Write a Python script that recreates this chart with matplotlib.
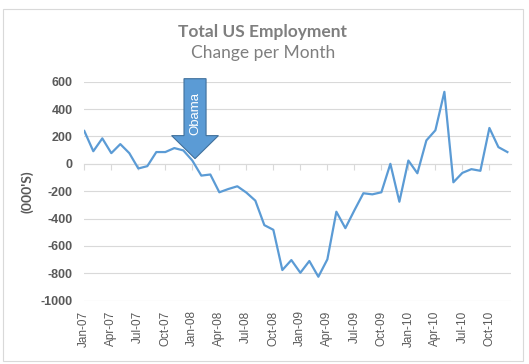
import numpy as np
import matplotlib
matplotlib.use("Agg")
import matplotlib.pyplot as plt
from matplotlib.patches import FancyArrow, Rectangle

# ===================== 数据 =====================
months = [
    "Jan-07", "Feb-07", "Mar-07", "Apr-07", "May-07", "Jun-07", "Jul-07", "Aug-07", "Sep-07", "Oct-07", "Nov-07", "Dec-07",
    "Jan-08", "Feb-08", "Mar-08", "Apr-08", "May-08", "Jun-08", "Jul-08", "Aug-08", "Sep-08", "Oct-08", "Nov-08", "Dec-08",
    "Jan-09", "Feb-09", "Mar-09", "Apr-09", "May-09", "Jun-09", "Jul-09", "Aug-09", "Sep-09", "Oct-09", "Nov-09", "Dec-09",
    "Jan-10", "Feb-10", "Mar-10", "Apr-10", "May-10", "Jun-10", "Jul-10", "Aug-10", "Sep-10", "Oct-10", "Nov-10", "Dec-10",
]
change = [
    240, 92, 186, 78, 144, 78, -34, -17, 86, 86, 115, 98,
    24, -86, -78, -208, -184, -164, -210, -269, -448, -482, -776, -703,
    -796, -710, -825, -698, -350, -470, -340, -215, -223, -208, 0, -277,
    24, -69, 171, 245, 526, -135, -66, -39, -51, 262, 122, 86,
]
tick_step = 3
y_ticks = [-1000, -800, -600, -400, -200, 0, 200, 400, 600]

# ===================== 样式 =====================
LINE_C = "#5B9BD5"
GRID_C = "#D9D9D9"
TEXT_C = "#595959"
TITLE_C = "#7F7F7F"

fig = plt.figure(figsize=(5.29, 3.64), dpi=100)
fig.patches.append(Rectangle((3 / 529, 3 / 364), 520 / 529, 352 / 364, transform=fig.transFigure,
                             fill=False, edgecolor=GRID_C, linewidth=0.8))

ax = fig.add_axes([84.3 / 529, 63.3 / 364, (511 - 84.3) / 529, (300.7 - 81.7) / 364])
x = np.arange(len(months))
ax.plot(x, change, color=LINE_C, linewidth=1.6, solid_joinstyle="round", zorder=3)

ax.set_xlim(0, len(months) - 1 + 0.4)
ax.set_ylim(-1000, 600)
ax.set_yticks(y_ticks)
ax.set_yticklabels([str(v) for v in y_ticks], fontsize=9, fontweight="bold", color=TEXT_C,
                   family="Liberation Sans")
ax.tick_params(axis="y", length=0, pad=8.5)
ax.grid(axis="y", color=GRID_C, linewidth=0.8)
ax.set_axisbelow(True)
for s in ["left", "right", "top"]:
    ax.spines[s].set_visible(False)

# 横轴线在 0 处
ax.spines["bottom"].set_position(("data", 0))
ax.spines["bottom"].set_color(GRID_C)
ax.spines["bottom"].set_linewidth(0.8)
ax.set_xticks(x[::tick_step])
ax.tick_params(axis="x", direction="out", length=4, color=GRID_C, labelbottom=False)

# 底部日期标签
sec = ax.secondary_xaxis("bottom")
sec.set_xticks(x[::tick_step])
sec.set_xticklabels(months[::tick_step], rotation=90, fontsize=8.5, color=TEXT_C,
                    family="Liberation Sans")
sec.tick_params(length=0, pad=7)
sec.spines["bottom"].set_visible(False)

ax.set_ylabel("(000'S)", fontsize=10, fontweight="bold", color=TEXT_C, family="Lato")
ax.yaxis.set_label_coords(-0.118, 0.5)

# 标题
fig.text(0.497, 1 - 32 / 364, "Total US Employment", ha="center", va="center",
         fontsize=12.5, fontweight="bold", color=TITLE_C, family="Lato")
fig.text(0.497, 1 - 53 / 364, "Change per Month", ha="center", va="center",
         fontsize=12.5, color=TITLE_C, family="Lato")

# Obama 箭头
arrow_x, arrow_top, arrow_tip = 12.3, 622, 38
arr = FancyArrow(arrow_x, arrow_top, 0, arrow_tip - arrow_top, width=2.45, head_width=5.2,
                 head_length=168, length_includes_head=True, facecolor=LINE_C,
                 edgecolor="#41719C", linewidth=0.8, clip_on=False, zorder=4)
ax.add_patch(arr)
ax.text(arrow_x, 370, "Obama", rotation=90, ha="center", va="center", color="white",
        fontsize=9.5, family="Liberation Sans", zorder=5)

fig.savefig("out.png", dpi=100)
